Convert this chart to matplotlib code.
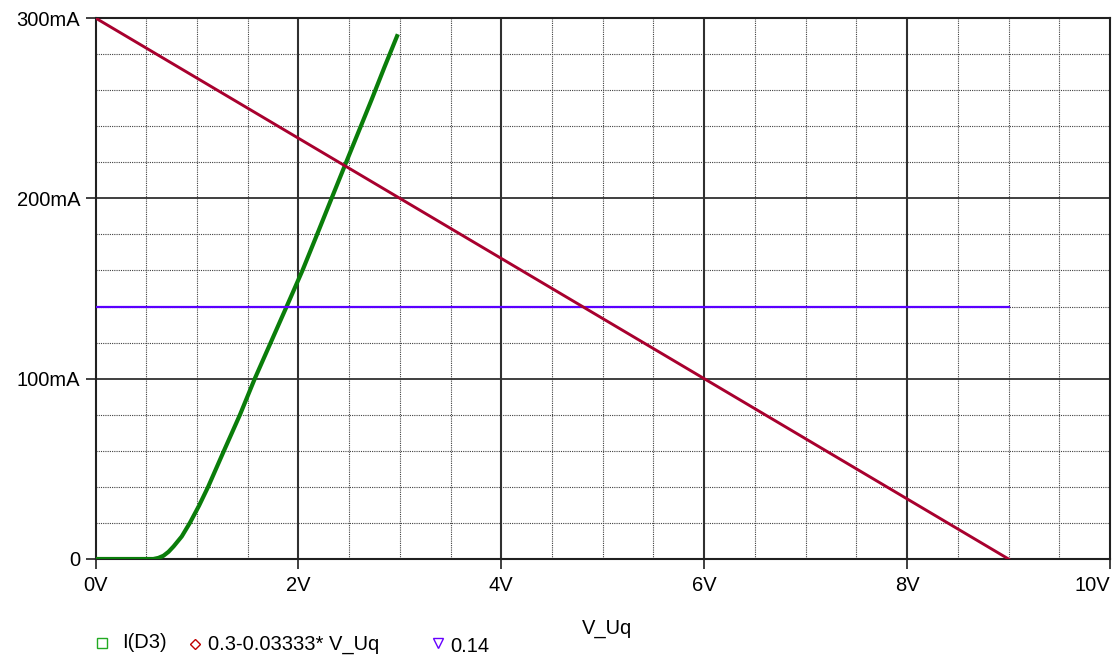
import numpy as np
import matplotlib
matplotlib.use('Agg')
import matplotlib.pyplot as plt
from matplotlib.lines import Line2D

plt.rcParams['font.family'] = ['Liberation Sans', 'DejaVu Sans']

# diode current I(D3) (V, mA)
v_diode = [0.0, 0.5, 0.57, 0.62, 0.67, 0.72, 0.77, 0.85, 0.93, 1.02, 1.11, 1.266, 1.424,
           1.57, 1.884, 2.04, 2.17, 2.32, 2.46, 2.59, 2.72, 2.85, 2.98]
i_diode = [0.0, 0.0, 0.0, 0.6, 1.8, 4.0, 7.0, 12.5, 20.0, 29.5, 40.0, 60.0, 80.0,
           100.0, 140.0, 160.0, 178.0, 199.0, 218.5, 236.5, 254.5, 273.0, 291.0]

# load line 0.3 - 0.03333*V_Uq and constant 0.14
v_load = [0.0, 9.0]
i_load = [300.0, 0.0]
v_const = [0.0, 9.0]
i_const = [140.0, 140.0]

x_ticks = [0, 2, 4, 6, 8, 10]
x_labels = ['0V', '2V', '4V', '6V', '8V', '10V']
y_ticks = [0, 100, 200, 300]
y_labels = ['0', '100mA', '200mA', '300mA']

legend_names = ['I(D3)', '0.3-0.03333* V_Uq', '0.14']

fig = plt.figure(figsize=(11.16, 6.59), dpi=100)
ax = fig.add_axes([95.5 / 1116, 1 - 559 / 659, (1110 - 95.5) / 1116, (559 - 18) / 659])

ax.set_xlim(0, 10)
ax.set_ylim(0, 300)

# grid: dotted minor, solid major
for xv in np.arange(0.5, 10, 0.5):
    if xv % 2 != 0:
        ax.axvline(xv, color='#404040', lw=0.8, ls=(0, (1, 1)), zorder=1)
for yv in np.arange(20, 300, 20):
    if yv % 100 != 0:
        ax.axhline(yv, color='#404040', lw=0.8, ls=(0, (1, 1)), zorder=1)
for xv in [2, 4, 6, 8]:
    ax.axvline(xv, color='#303030', lw=1.5, zorder=1)
for yv in [100, 200]:
    ax.axhline(yv, color='#303030', lw=1.3, zorder=1)

ax.plot(v_diode, i_diode, color='#0a7d0a', lw=3.0, zorder=3, solid_capstyle='butt')
ax.plot(v_const, i_const, color='#5a00ff', lw=1.6, zorder=4)
ax.plot(v_load, i_load, color='#a8002e', lw=2.1, zorder=5)

for s in ax.spines.values():
    s.set_color('#202020')
    s.set_linewidth(1.5)

ax.set_xticks(x_ticks)
ax.set_xticklabels(x_labels)
ax.set_yticks(y_ticks)
ax.set_yticklabels(y_labels)
ax.tick_params(axis='both', direction='out', length=7, width=1.2, color='#202020',
               labelsize=14.5, pad=4)
ax.tick_params(axis='x', pad=5)
# last x label sits inside the figure edge
ax.get_xticklabels()[-1].set_horizontalalignment('right')

fig.text(607 / 1116, 1 - 628 / 659, 'V_Uq', ha='center', va='center', fontsize=14.5)

# legend below the plot
mk_x = [102, 195, 438]
mk_y = [643, 644, 643]
mk_style = ['s', 'D', 'v']
mk_size = [7, 5.5, 7]
mk_color = ['#22aa22', '#c00000', '#6600ff']
txt_x = [122, 208, 450]
txt_y = [643, 645, 646]
for i in range(3):
    fig.add_artist(Line2D([mk_x[i] / 1116], [1 - mk_y[i] / 659], transform=fig.transFigure,
                          marker=mk_style[i], markersize=mk_size[i], markerfacecolor='none',
                          markeredgecolor=mk_color[i], markeredgewidth=1.0, ls='none'))
    fig.text(txt_x[i] / 1116, 1 - txt_y[i] / 659, legend_names[i], ha='left', va='center',
             fontsize=14.5)

fig.savefig('out.png', dpi=100)
